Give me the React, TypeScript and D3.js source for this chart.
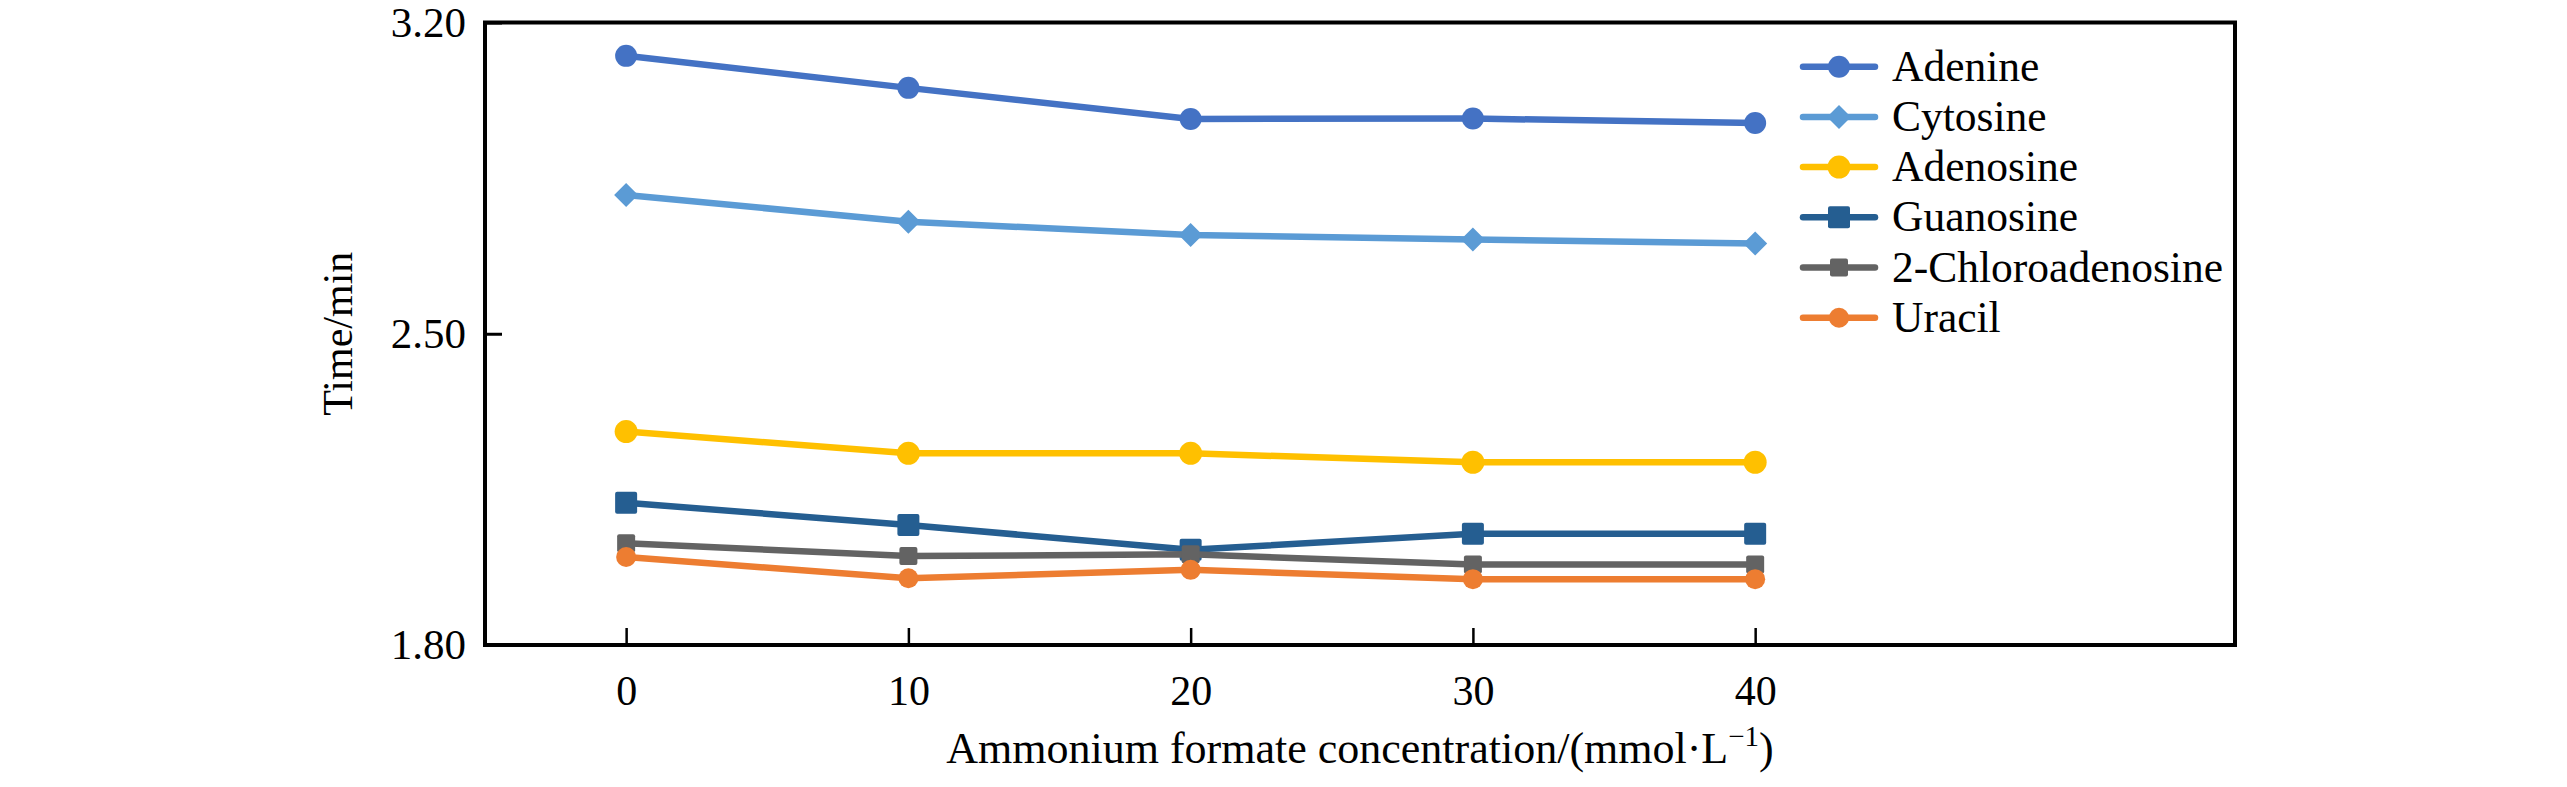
import { useEffect, useRef } from "react";
import * as d3 from "d3";

const concentrations = [0, 10, 20, 30, 40];

const adenine = [3.125, 3.053, 2.983, 2.984, 2.974];
const cytosine = [2.812, 2.752, 2.722, 2.712, 2.703];
const adenosine = [2.28, 2.231, 2.231, 2.211, 2.211];
const guanosine = [2.12, 2.07, 2.014, 2.05, 2.05];
const chloroadenosine = [2.029, 2.0, 2.004, 1.981, 1.981];
const uracil = [1.998, 1.95, 1.969, 1.948, 1.948];

const yTicks = [1.8, 2.5, 3.2];

const series = [
  { name: "Adenine", values: adenine, color: "#4472C4", marker: "circle", size: 11 },
  { name: "Cytosine", values: cytosine, color: "#5B9BD5", marker: "diamond", size: 12 },
  { name: "Adenosine", values: adenosine, color: "#FFC000", marker: "circle", size: 11.5 },
  { name: "Guanosine", values: guanosine, color: "#255E91", marker: "square", size: 11 },
  { name: "2-Chloroadenosine", values: chloroadenosine, color: "#636363", marker: "square", size: 9 },
  { name: "Uracil", values: uracil, color: "#ED7D31", marker: "circle", size: 10 },
];

const FONT = "'Liberation Serif', 'Times New Roman', serif";

const App = () => {
  const svgRef = useRef(null);

  useEffect(() => {
    const width = 2567;
    const height = 787;
    const margin = { top: 22.5, right: 332, bottom: 142, left: 485 };

    const svg = d3.select(svgRef.current);
    svg.selectAll("*").remove();
    svg.attr("width", width).attr("height", height);

    const x = d3.scaleLinear().domain([-5, 57]).range([margin.left, width - margin.right]);
    const y = d3.scaleLinear().domain([1.8, 3.2]).range([height - margin.bottom, margin.top]);

    const drawMarker = (g, kind, cx, cy, s, color) => {
      if (kind === "circle") {
        g.append("circle").attr("cx", cx).attr("cy", cy).attr("r", s).attr("fill", color);
      } else if (kind === "square") {
        g.append("rect")
          .attr("x", cx - s)
          .attr("y", cy - s)
          .attr("width", s * 2)
          .attr("height", s * 2)
          .attr("rx", 2)
          .attr("fill", color);
      } else {
        g.append("path")
          .attr("d", `M${cx},${cy - s}L${cx + s},${cy}L${cx},${cy + s}L${cx - s},${cy}Z`)
          .attr("fill", color);
      }
    };

    // lignes + marqueurs
    const line = d3
      .line<number>()
      .x((_, i) => x(concentrations[i]))
      .y((d) => y(d));

    series.forEach((s) => {
      const g = svg.append("g");
      g.append("path")
        .attr("d", line(s.values))
        .attr("fill", "none")
        .attr("stroke", s.color)
        .attr("stroke-width", 6.5)
        .attr("stroke-linejoin", "round");
      s.values.forEach((v, i) => drawMarker(g, s.marker, x(concentrations[i]), y(v), s.size, s.color));
    });

    // cadre
    const x0 = x(-5);
    const x1 = x(57);
    const y0 = y(1.8);
    const y1 = y(3.2);
    svg.append("rect")
      .attr("x", x0)
      .attr("y", y1)
      .attr("width", x1 - x0)
      .attr("height", y0 - y1)
      .attr("fill", "none")
      .attr("stroke", "#000")
      .attr("stroke-width", 4);

    // ticks x (vers l'intérieur)
    const xAxis = d3
      .axisBottom(x)
      .tickValues(concentrations)
      .tickSize(-17)
      .tickPadding(30)
      .tickFormat(d3.format("d"));
    const gx = svg.append("g").attr("transform", `translate(0,${y0})`).call(xAxis as any);
    gx.select(".domain").remove();
    gx.selectAll(".tick line").attr("stroke", "#000").attr("stroke-width", 2.5);
    gx.selectAll(".tick text")
      .attr("font-family", FONT)
      .attr("font-size", 42)
      .attr("fill", "#000");

    // ticks y
    const yAxis = d3
      .axisLeft(y)
      .tickValues(yTicks)
      .tickSize(-17)
      .tickPadding(19)
      .tickFormat(d3.format(".2f"));
    const gy = svg.append("g").attr("transform", `translate(${x0},0)`).call(yAxis as any);
    gy.select(".domain").remove();
    gy.selectAll(".tick line").attr("stroke", "#000").attr("stroke-width", 3);
    gy.selectAll(".tick text")
      .attr("font-family", FONT)
      .attr("font-size", 43)
      .attr("fill", "#000");

    // titres des axes
    const xTitle = svg.append("text")
      .attr("x", (x0 + x1) / 2)
      .attr("y", 763)
      .attr("text-anchor", "middle")
      .attr("font-family", FONT)
      .attr("font-size", 44)
      .attr("fill", "#000");
    xTitle.append("tspan").text("Ammonium formate concentration/(mmol\u00B7L");
    xTitle.append("tspan").attr("dy", -17).attr("font-size", 29).text("\u22121");
    xTitle.append("tspan").attr("dy", 17).text(")");

    svg.append("text")
      .attr("transform", `translate(352,${(y0 + y1) / 2}) rotate(-90)`)
      .attr("text-anchor", "middle")
      .attr("font-family", FONT)
      .attr("font-size", 42)
      .attr("fill", "#000")
      .text("Time/min");

    // légende
    const legend = svg.append("g");
    series.forEach((s, i) => {
      const ly = 66.7 + i * 50.2;
      const g = legend.append("g");
      g.append("line")
        .attr("x1", 1803)
        .attr("x2", 1875)
        .attr("y1", ly)
        .attr("y2", ly)
        .attr("stroke", s.color)
        .attr("stroke-width", 6.5)
        .attr("stroke-linecap", "round");
      drawMarker(g, s.marker, 1839, ly, s.size, s.color);
      g.append("text")
        .attr("x", 1892)
        .attr("y", ly + 14)
        .attr("font-family", FONT)
        .attr("font-size", 43.5)
        .attr("fill", "#000")
        .text(s.name);
    });
  }, []);

  return <svg ref={svgRef} style={{ position: "absolute", left: 0, top: 0 }}></svg>;
};

export default App;
